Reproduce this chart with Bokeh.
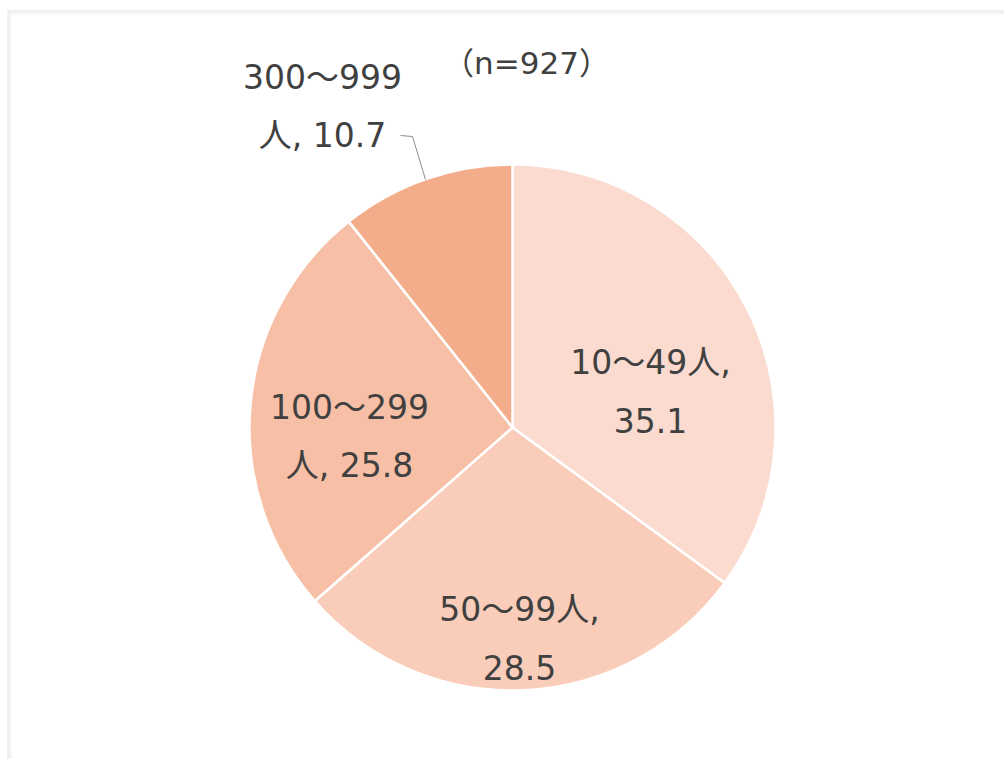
import numpy as np
from bokeh.plotting import figure
from bokeh.models import Range1d, ColumnDataSource
from bokeh.core.properties import value
from bokeh.embed import file_html
from bokeh.resources import INLINE

# Company size breakdown (%)
categories = ["10～49人", "50～99人", "100～299人", "300～999人"]
shares = [35.1, 28.5, 25.8, 10.7]
sample_note = "（n=927）"

slice_colors = ["#FBDBCF", "#F9CDB9", "#F7BFA5", "#F4AD8A"]
text_color = "#404040"
font = value("DejaVu Sans, Noto Sans CJK JP")

W, H = 1004, 759
CX, CY, R = 512, 427, 263          # pie centre / radius in page pixels (y down)


def py(y):
    """Convert a top-down pixel y into the figure's bottom-up y."""
    return H - y


p = figure(width=W, height=H, x_range=Range1d(0, W), y_range=Range1d(0, H),
           output_backend="svg", toolbar_location=None, min_border=0,
           x_axis_location=None, y_axis_location=None)
p.grid.visible = False
p.outline_line_color = None
p.background_fill_color = "white"
p.border_fill_color = "white"

# soft frame shadow along the top and left edges
shade = ["#e4e4e4", "#eaeaea", "#f0f0f0", "#f5f5f5", "#f9f9f9"]
for i, c in enumerate(shade):
    p.quad(left=7, right=W, top=py(10 + i), bottom=py(11 + i),
           fill_color=c, line_color=None)
    p.quad(left=7 + i, right=8 + i, top=py(10), bottom=0,
           fill_color=c, line_color=None)

# pie wedges, clockwise from 12 o'clock
frac = np.array(shares) / np.sum(shares)
cum = np.concatenate([[0.0], np.cumsum(frac)])
start = np.pi / 2 - 2 * np.pi * cum[:-1]
end = np.pi / 2 - 2 * np.pi * cum[1:]

src = ColumnDataSource(dict(cat=categories, share=shares, start=start, end=end,
                            color=slice_colors))
p.wedge(x=CX, y=py(CY), radius=R, start_angle="start", end_angle="end",
        direction="clock", fill_color="color", line_color="white",
        line_width=2.5, source=src)

# data labels "category, value" on two lines
break_after_comma = [True, True, False, False]
label_anchor = [(650, 362), (519, 609), (349, 407), (322, 77)]  # centre x, first baseline
line_gap = 58

lx, ly, lt = [], [], []
for cat, v, brk, (ax, ay) in zip(categories, shares, break_after_comma, label_anchor):
    if brk:
        first, second = f"{cat},", f"{v}"
    else:
        first, second = cat[:-1], f"{cat[-1]}, {v}"
    lx += [ax, ax]
    ly += [py(ay), py(ay + line_gap)]
    lt += [first, second]

p.text(x=lx, y=ly, text=lt, text_align="center", text_baseline="alphabetic",
       text_font=font, text_font_size="33px", text_color=text_color)

# leader line for the small outside label
p.line(x=[400, 412, 425], y=[py(135), py(136), py(179)],
       line_color="#8c8c8c", line_width=1)

# sample size note
p.text(x=[526], y=[py(62)], text=[sample_note], text_align="center",
       text_baseline="alphabetic", text_font=font, text_font_size="31px",
       text_color=text_color)

open("out.html", "w").write(file_html(p, INLINE))
